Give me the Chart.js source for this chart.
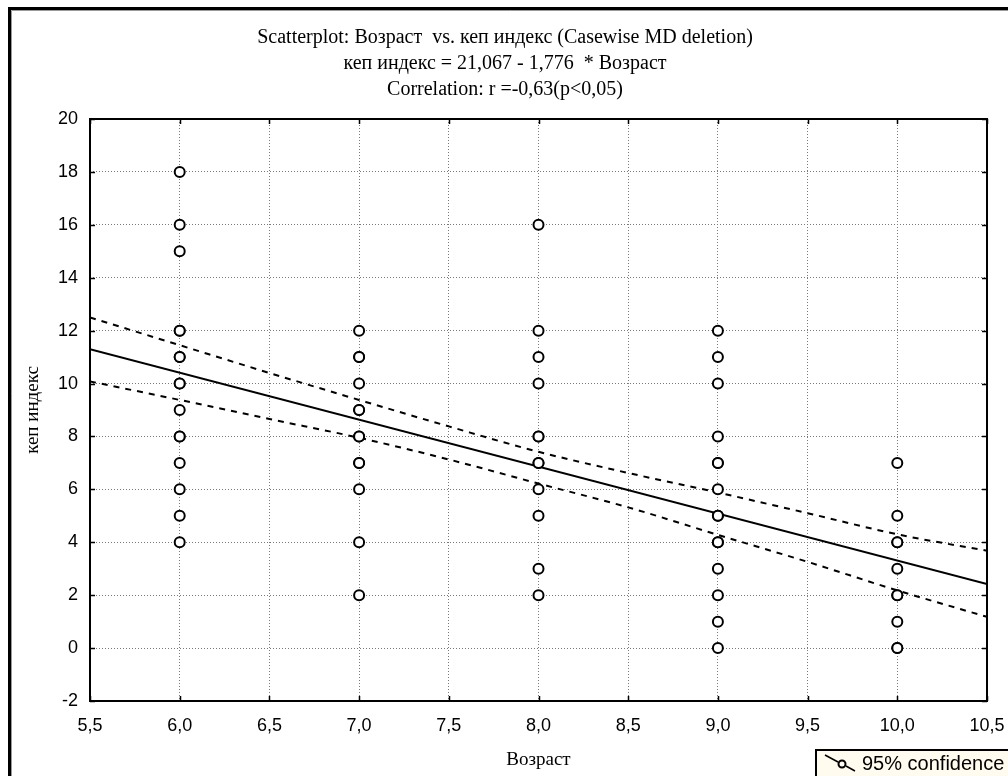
<!DOCTYPE html>
<html>
<head>
<meta charset="utf-8">
<script src="https://cdn.jsdelivr.net/npm/chart.js@4"></script>
<style>
  html, body { margin: 0; padding: 0; background: #fff; }
  #wrap { width: 1008px; height: 776px; position: relative; }
</style>
</head>
<body>
<div id="wrap"><canvas id="scatterChart" width="1008" height="776"></canvas></div>
<script>
// observed values per age group (duplicates overlap)
const kep6 = [18, 16, 15, 12, 12, 11, 11, 10, 10, 9, 8, 8, 7, 6, 5, 4];
const kep7 = [12, 11, 11, 10, 9, 9, 8, 8, 7, 7, 6, 4, 2];
const kep8 = [16, 12, 11, 10, 8, 8, 7, 7, 6, 5, 3, 2];
const kep9 = [12, 11, 10, 8, 7, 7, 6, 5, 5, 4, 4, 3, 2, 1, 0];
const kep10 = [7, 5, 4, 4, 3, 2, 2, 1, 0, 0];
const ages = [6, 7, 8, 9, 10];

// fitted line: кеп индекс = 21,067 - 1,776 * Возраст
const intercept = 21.067;
const slope = -1.776;

// 95% confidence band, read along the x range
const bandX = [5.5, 6.0, 6.5, 7.0, 7.5, 8.0, 8.5, 9.0, 9.5, 10.0, 10.5];
const bandUpper = [12.50, 11.45, 10.40, 9.38, 8.38, 7.42, 6.62, 5.88, 5.10, 4.30, 3.68];
const bandLower = [10.08, 9.38, 8.66, 7.95, 7.13, 6.22, 5.32, 4.28, 3.26, 2.18, 1.18];

const xTicks = [5.5, 6.0, 6.5, 7.0, 7.5, 8.0, 8.5, 9.0, 9.5, 10.0, 10.5];
const yTicks = [-2, 0, 2, 4, 6, 8, 10, 12, 14, 16, 18, 20];

const titleLines = [
    'Scatterplot: Возраст  vs. кеп индекс (Casewise MD deletion)',
    'кеп индекс = 21,067 - 1,776  * Возраст',
    'Correlation: r =-0,63(p<0,05)'
];

const columns = [kep6, kep7, kep8, kep9, kep10];
const points = [];
columns.forEach((col, i) => {
    col.forEach(v => points.push({ x: ages[i], y: v }));
});

const xMin = xTicks[0], xMax = xTicks[xTicks.length - 1];
const fitLine = [
    { x: xMin, y: intercept + slope * xMin },
    { x: xMax, y: intercept + slope * xMax }
];
const upperLine = bandX.map((x, i) => ({ x: x, y: bandUpper[i] }));
const lowerLine = bandX.map((x, i) => ({ x: x, y: bandLower[i] }));

const serif = "'Liberation Serif', 'Times New Roman', serif";
const sans = "'Liberation Sans', Arial, sans-serif";

const fmt = v => v.toFixed(1).replace('.', ',');

// frame, titles, inner ticks and legend box
const decorations = {
    id: 'decorations',
    afterDraw(chart) {
        const ctx = chart.ctx;
        const a = chart.chartArea;
        const xs = chart.scales.x, ys = chart.scales.y;
        ctx.save();

        // outer frame
        ctx.strokeStyle = '#000';
        ctx.lineWidth = 3;
        ctx.beginPath();
        ctx.moveTo(9.5, 780);
        ctx.lineTo(9.5, 8.5);
        ctx.lineTo(1012, 8.5);
        ctx.stroke();
        ctx.strokeStyle = '#9a9a9a';
        ctx.lineWidth = 1;
        ctx.beginPath();
        ctx.moveTo(11.5, 780);
        ctx.lineTo(11.5, 10.5);
        ctx.lineTo(1012, 10.5);
        ctx.stroke();

        // plot box
        ctx.strokeStyle = '#000';
        ctx.lineWidth = 2;
        ctx.strokeRect(a.left, a.top, a.right - a.left, a.bottom - a.top);

        // short ticks pointing inward
        ctx.lineWidth = 1.5;
        ctx.beginPath();
        xTicks.forEach(t => {
            const px = Math.round(xs.getPixelForValue(t)) + 0.5;
            ctx.moveTo(px, a.bottom); ctx.lineTo(px, a.bottom - 5);
            ctx.moveTo(px, a.top); ctx.lineTo(px, a.top + 5);
        });
        yTicks.forEach(t => {
            const py = Math.round(ys.getPixelForValue(t)) + 0.5;
            ctx.moveTo(a.left, py); ctx.lineTo(a.left + 5, py);
            ctx.moveTo(a.right, py); ctx.lineTo(a.right - 5, py);
        });
        ctx.stroke();

        // titles
        ctx.fillStyle = '#000';
        ctx.font = '20px ' + serif;
        ctx.textAlign = 'center';
        ctx.textBaseline = 'middle';
        titleLines.forEach((line, i) => ctx.fillText(line, 505, 38 + i * 26));

        // axis titles
        ctx.font = '19px ' + serif;
        ctx.fillText('Возраст', (a.left + a.right) / 2, 760);
        ctx.save();
        ctx.translate(33, (a.top + a.bottom) / 2);
        ctx.rotate(-Math.PI / 2);
        ctx.fillText('кеп индекс', 0, 0);
        ctx.restore();

        // legend box
        ctx.fillStyle = '#fffbee';
        ctx.fillRect(816, 750, 200, 40);
        ctx.strokeStyle = '#000';
        ctx.lineWidth = 2;
        ctx.strokeRect(816, 750, 200, 40);
        ctx.lineWidth = 1.5;
        ctx.beginPath();
        ctx.moveTo(825, 755);
        ctx.lineTo(838, 762);
        ctx.moveTo(846, 766);
        ctx.lineTo(855, 771);
        ctx.stroke();
        ctx.lineWidth = 2;
        ctx.beginPath();
        ctx.arc(842, 764, 3.5, 0, Math.PI * 2);
        ctx.stroke();
        ctx.fillStyle = '#000';
        ctx.font = '20px ' + sans;
        ctx.textAlign = 'left';
        ctx.textBaseline = 'middle';
        ctx.fillText('95% confidence', 862, 764);

        ctx.restore();
    }
};

new Chart(document.getElementById('scatterChart'), {
    type: 'scatter',
    data: {
        datasets: [
            {
                label: 'points',
                data: points,
                pointStyle: 'circle',
                pointRadius: 5,
                pointBorderWidth: 2,
                borderColor: '#000',
                backgroundColor: '#fff',
                order: 0
            },
            {
                label: 'fit',
                type: 'line',
                data: fitLine,
                borderColor: '#000',
                borderWidth: 2,
                pointRadius: 0,
                fill: false,
                order: 1
            },
            {
                label: 'upper',
                type: 'line',
                data: upperLine,
                borderColor: '#000',
                borderWidth: 2,
                borderDash: [6, 6],
                cubicInterpolationMode: 'monotone',
                pointRadius: 0,
                fill: false,
                order: 1
            },
            {
                label: 'lower',
                type: 'line',
                data: lowerLine,
                borderColor: '#000',
                borderWidth: 2,
                borderDash: [6, 6],
                cubicInterpolationMode: 'monotone',
                pointRadius: 0,
                fill: false,
                order: 1
            }
        ]
    },
    options: {
        responsive: false,
        animation: false,
        layout: { padding: { left: 10, top: 119, right: 21, bottom: 0 } },
        plugins: {
            legend: { display: false },
            tooltip: { enabled: false }
        },
        scales: {
            x: {
                type: 'linear',
                min: xMin,
                max: xMax,
                afterBuildTicks(scale) { scale.ticks = xTicks.map(v => ({ value: v })); },
                afterFit(scale) {
                    scale.height = 75;
                    // let the end labels overhang the plot box
                    scale.paddingLeft = 0;
                    scale.paddingRight = 0;
                },
                grid: { color: '#7a7a7a', lineWidth: 1, drawTicks: false },
                border: { display: false, dash: [1, 2] },
                ticks: {
                    color: '#000',
                    font: { family: sans, size: 18 },
                    padding: 14,
                    maxRotation: 0,
                    callback: v => fmt(v)
                }
            },
            y: {
                type: 'linear',
                min: -2,
                max: 20,
                afterBuildTicks(scale) { scale.ticks = yTicks.map(v => ({ value: v })); },
                afterFit(scale) { scale.width = 80; },
                grid: { color: '#7a7a7a', lineWidth: 1, drawTicks: false },
                border: { display: false, dash: [1, 2] },
                ticks: {
                    color: '#000',
                    font: { family: sans, size: 18 },
                    padding: 12,
                    callback: v => String(v)
                }
            }
        }
    },
    plugins: [decorations]
});
</script>
</body>
</html>
